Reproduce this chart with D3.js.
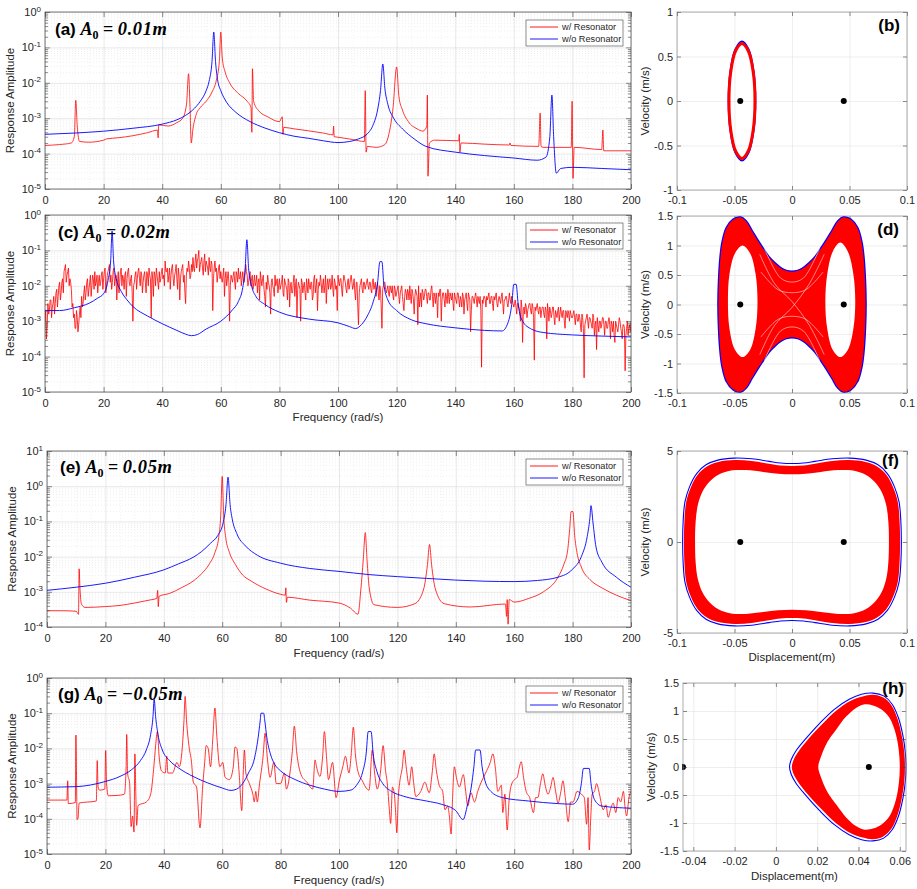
<!DOCTYPE html>
<html><head><meta charset="utf-8">
<script src="https://cdn.jsdelivr.net/npm/d3@7"></script>
<style>body{margin:0;background:#fff}text{font-family:"Liberation Sans",Arial,sans-serif}</style>
</head><body><svg id="c" width="917" height="889"></svg>
<script>
// ---------- DATA ----------
const freqTicks = [0,20,40,60,80,100,120,140,160,180,200];
const legendLabels = ["w/ Resonator","w/o Resonator"];

// (a) A0 = 0.01 m  [frequency, amplitude]
const aBlue = [[0,3.5e-4],[10,3.8e-4],[20,4.3e-4],[30,5.2e-4],[40,6.8e-4],[45,9e-4],[48,1.2e-3],[51,1.9e-3],[53,3e-3],[55,6e-3],[56,0.011],[57,0.04],[57.6,0.27],[58.2,0.04],[59,0.011],[60,6e-3],[62,2.8e-3],[65,1.5e-3],[70,8e-4],[75,5.3e-4],[80,3.9e-4],[85,3.1e-4],[90,2.7e-4],[95,2.3e-4],[100,2.05e-4],[104,2.2e-4],[107,2.6e-4],[110,3.6e-4],[112,6.5e-4],[113.5,1.7e-3],[114.5,6e-3],[115.3,0.034],[116,7e-3],[117,2.5e-3],[119,1e-3],[122,5e-4],[126,2.6e-4],[130,1.6e-4],[140,1.1e-4],[150,8.8e-5],[160,7.5e-5],[168,6.5e-5],[171,8e-5],[172.3,3e-4],[173,4.5e-3],[173.6,3e-4],[174.5,2.8e-5],[176,3.8e-5],[180,4.1e-5],[190,3.8e-5],[200,3.5e-5]];
const aRed = [[0,1.7e-4],[5,1.8e-4],[9,2e-4],[10,3e-4],[10.5,3.2e-3],[11,6e-4],[11.8,2.2e-4],[15,2.1e-4],[20,2.4e-4],[21,2.6e-4],[25,2.8e-4],[30,3.2e-4],[35,3.9e-4],[38.4,4.6e-4],[38.6,2.8e-4],[38.8,6.5e-4],[42,6e-4],[45,7.5e-4],[47,1e-3],[48.3,2.5e-3],[49,0.018],[49.5,2e-3],[49.9,2e-4],[50.5,5e-4],[51.5,1.2e-3],[53,2e-3],[55,3e-3],[57,5.5e-3],[58.5,0.012],[59.5,0.04],[60,0.27],[60.5,0.05],[61.5,0.02],[63,0.01],[66,5e-3],[69,3e-3],[70.3,2e-3],[70.6,4e-4],[70.8,0.025],[71.2,3e-3],[73,1.6e-3],[76,1.1e-3],[80,8e-4],[81,1.1e-3],[81.2,3.5e-4],[81.5,5.5e-4],[85,5e-4],[90,4.4e-4],[95,3.8e-4],[98.3,3.4e-4],[98.5,6e-4],[98.7,3e-4],[100,2.9e-4],[105,2.5e-4],[109,2.2e-4],[109.3,6e-3],[109.6,1.1e-4],[110,1.6e-4],[113,1.5e-4],[116,1.8e-4],[117.5,4e-4],[118.8,2e-3],[120,0.028],[120.8,4e-3],[122,1.7e-3],[124,8e-4],[127,5e-4],[129,4.3e-4],[130.3,6e-4],[130.5,4.5e-3],[130.7,2.3e-5],[131.2,2e-4],[133,2.4e-4],[141.2,2.3e-4],[141.4,3.5e-4],[141.6,1.1e-4],[142,2e-4],[150,1.85e-4],[158.5,1.75e-4],[158.7,2e-4],[159,1.7e-4],[168.5,1.6e-4],[169,1.4e-3],[169.3,1.6e-4],[170,1.5e-4],[179.6,1.5e-4],[179.9,3e-3],[180.2,2e-5],[180.6,1.5e-4],[190,1.3e-4],[190.4,4.6e-4],[190.7,1.2e-4],[200,1.2e-4]];

// (c) A0 = 0.02 m
const cBlue = [[0,2e-3],[5,2e-3],[10,2.4e-3],[15,3.2e-3],[18,4.5e-3],[20,6e-3],[21.5,0.014],[22.4,0.05],[22.9,0.35],[23.4,0.05],[24.3,0.016],[26,7e-3],[28,4e-3],[30,2.6e-3],[35,1.4e-3],[40,8.5e-4],[45,5.5e-4],[48,4.3e-4],[50,3.9e-4],[52,4.2e-4],[55,6e-4],[60,1e-3],[64,2.1e-3],[66,3.6e-3],[67.5,9e-3],[68.3,0.03],[68.9,0.2],[69.5,0.03],[70.5,0.01],[72,5e-3],[75,3e-3],[80,1.8e-3],[90,1.15e-3],[100,9e-4],[104,7e-4],[106,6.2e-4],[108,8e-4],[110,1.4e-3],[112,3.5e-3],[113.5,0.012],[114.3,0.048],[115,0.048],[115.6,0.012],[117,4e-3],[120,2e-3],[125,1.1e-3],[130,8.5e-4],[140,6.5e-4],[150,5.5e-4],[156,5.3e-4],[158,9e-4],[159.3,3e-3],[160,0.011],[160.8,0.011],[161.5,3e-3],[163,1e-3],[166,6e-4],[170,4.8e-4],[180,4.1e-4],[190,3.8e-4],[200,3.6e-4]];
// red trace of (c): log10 amplitude sampled every 0.5 rad/s (A: at 0, 0.5, ...; B: at 0.25, 0.75, ...)
const cRedLogA = [
-3.0,-3.5,-2.5,-2.7,-2.4,-2.6,-2.3,-2.5,-2.1,-2.3,-1.9,-2.2,-1.8,-1.6,-1.4,-1.7,-1.5,-1.8,-2.1,-2.5,
-2.8,-3.2,-2.9,-3.1,-2.6,-2.3,-2.5,-2.0,-2.2,-1.8,-2.1,-1.7,-2.0,-1.8,-1.6,-1.9,-2.2,-1.7,-1.9,-1.6,
-1.8,-1.5,-2.0,-1.6,-1.4,-1.7,-1.9,-1.5,-1.8,-2.4,-1.6,-1.9,-1.5,-1.7,-2.1,-1.6,-1.8,-1.5,-2.0,-1.7,
-3.0,-1.9,-1.6,-1.8,-1.5,-2.0,-1.7,-1.9,-1.6,-2.2,-1.7,-1.5,-1.8,-1.6,-2.3,-1.7,-1.5,-1.9,-1.6,-1.8,
-1.5,-1.7,-1.3,-1.6,-1.9,-1.5,-1.7,-1.4,-2.0,-1.6,-1.8,-1.5,-2.4,-1.6,-1.4,-1.7,-2.5,-1.5,-1.3,-1.8,
-1.4,-1.2,-1.6,-1.1,-1.3,-1.0,-1.4,-1.2,-1.7,-1.1,-1.3,-1.5,-1.2,-1.6,-1.4,-1.8,-1.3,-1.5,-1.7,-1.4,
-1.6,-1.9,-1.5,-1.8,-2.0,-1.6,-3.0,-1.7,-1.9,-1.6,-2.1,-1.7,-1.5,-1.8,-2.0,-1.6,-1.9,-1.4,-1.7,-1.9,
-1.6,-1.8,-2.1,-1.7,-1.9,-2.2,-1.8,-1.6,-2.0,-1.7,-2.3,-1.9,-1.7,-2.0,-2.8,-1.8,-2.1,-1.7,-1.9,-2.2,
-1.8,-2.0,-1.7,-2.3,-1.9,-2.1,-1.8,-2.6,-1.9,-2.2,-1.7,-2.0,-2.9,-1.9,-2.1,-1.8,-2.2,-1.9,-2.4,-2.0,
-1.8,-2.1,-1.9,-2.3,-1.7,-2.0,-2.7,-1.9,-1.7,-2.2,-1.8,-2.0,-2.5,-1.8,-1.9,-2.1,-1.7,-2.3,-1.9,-2.0,
-1.7,-2.0,-1.8,-2.3,-1.7,-1.9,-2.2,-1.8,-2.0,-1.7,-2.1,-1.8,-2.4,-1.9,-3.1,-2.0,-1.8,-2.2,-1.9,-2.0,
-1.8,-2.1,-1.9,-2.2,-1.8,-2.0,-2.3,-1.9,-2.4,-2.1,-3.2,-2.0,-1.9,-2.2,-2.0,-2.3,-2.1,-2.0,-2.4,-2.1,
-2.2,-2.0,-2.5,-2.1,-2.3,-2.7,-2.1,-2.4,-2.2,-2.0,-2.5,-2.2,-2.8,-2.1,-2.3,-2.0,-2.4,-2.6,-2.2,-2.3,
-2.1,-2.5,-2.2,-2.4,-2.0,-2.6,-2.3,-2.2,-2.9,-2.3,-2.1,-2.4,-2.2,-2.6,-2.3,-2.1,-2.5,-2.3,-2.2,-2.7,
-2.3,-2.5,-2.2,-2.6,-2.4,-2.2,-2.8,-2.3,-2.5,-2.2,-2.4,-2.7,-2.3,-2.5,-2.2,-2.6,-2.4,-2.3,-4.3,-2.5,
-2.3,-2.6,-2.4,-2.2,-2.5,-2.3,-2.7,-2.4,-2.2,-2.6,-2.3,-2.5,-2.2,-2.8,-2.4,-2.3,-2.6,-2.2,-2.5,-2.4,
-2.6,-2.4,-2.8,-2.5,-2.7,-2.4,-3.6,-2.6,-2.5,-2.9,-2.6,-2.5,-2.8,-2.6,-4.1,-2.7,-2.5,-2.8,-2.6,-2.7,
-2.6,-2.9,-2.7,-2.5,-3.0,-2.7,-2.8,-2.6,-3.1,-2.8,-2.7,-3.0,-2.6,-2.9,-2.7,-3.2,-2.8,-2.7,-3.0,-2.8,
-2.9,-2.7,-3.1,-2.8,-3.0,-2.9,-3.3,-2.9,-4.6,-3.0,-2.8,-3.2,-2.9,-3.1,-2.8,-3.4,-3.0,-2.9,-3.3,-3.0,
-3.1,-2.9,-3.4,-3.0,-3.2,-2.9,-3.5,-3.1,-3.0,-3.6,-3.1,-3.3,-2.9,-3.2,-3.5,-3.1,-4.4,-3.2,-3.4,-3.1,-3.0];
const cRedLogB = [
-2.7,-3.1,-2.8,-2.4,-2.9,-2.5,-2.8,-2.2,-2.6,-2.0,-2.4,-1.9,-2.2,-1.5,-1.9,-1.6,-2.0,-1.9,-2.6,-2.9,
-3.2,-2.7,-3.3,-2.8,-2.9,-2.6,-2.2,-2.4,-1.9,-2.3,-1.9,-2.3,-1.7,-2.1,-2.0,-1.7,-1.9,-2.0,-1.7,-2.1,
-1.6,-2.2,-1.7,-1.5,-1.9,-2.1,-1.6,-2.0,-1.7,-1.9,-2.2,-1.6,-2.0,-1.8,-1.7,-2.3,-1.6,-1.9,-1.8,-2.2,
-2.0,-1.7,-2.1,-1.6,-1.8,-1.6,-2.2,-1.7,-1.9,-1.6,-2.0,-1.7,-2.9,-1.8,-1.6,-2.0,-1.7,-2.1,-1.9,-1.6,
-1.8,-2.0,-1.6,-1.5,-1.7,-2.1,-1.5,-1.8,-1.7,-1.4,-2.1,-1.7,-1.8,-1.5,-1.9,-2.2,-1.7,-1.6,-1.5,-1.7,
-1.6,-1.5,-1.3,-1.5,-1.2,-1.6,-1.3,-1.5,-1.3,-1.6,-1.4,-1.7,-1.5,-1.3,-2.7,-1.5,-1.6,-1.9,-1.5,-1.8,
-1.8,-1.7,-2.3,-1.6,-1.8,-1.9,-2.0,-1.8,-1.7,-1.9,-1.6,-1.9,-1.8,-1.6,-1.8,-1.9,-1.7,-1.6,-2.0,-1.7,
-2.0,-1.7,-1.9,-2.0,-1.7,-1.9,-2.4,-1.8,-1.8,-2.1,-2.6,-2.1,-1.9,-2.2,-1.9,-2.0,-2.3,-2.0,-1.8,-2.0,
-2.1,-1.9,-2.2,-1.8,-2.0,-2.4,-1.9,-2.0,-2.2,-1.9,-2.3,-1.8,-2.1,-2.0,-3.0,-1.9,-2.0,-2.2,-1.8,-2.2,
-2.0,-1.9,-2.4,-1.8,-2.2,-1.8,-2.1,-2.0,-1.9,-2.0,-2.2,-1.7,-2.0,-2.1,-1.8,-2.0,-2.1,-1.8,-2.1,-2.7,
-1.9,-1.8,-2.1,-1.9,-1.8,-2.1,-1.9,-2.1,-1.8,-1.9,-2.0,-2.2,-1.9,-2.6,-2.2,-1.9,-2.1,-1.9,-2.1,-1.9,
-2.0,-1.9,-2.1,-1.9,-2.1,-1.9,-2.1,-2.2,-2.0,-2.6,-2.1,-1.9,-2.1,-2.1,-2.2,-2.0,-2.2,-2.3,-2.0,-2.3,
-2.1,-2.3,-2.2,-2.0,-2.5,-2.3,-2.2,-2.1,-2.4,-2.3,-2.1,-2.4,-2.3,-2.2,-3.1,-2.6,-2.2,-2.1,-2.4,-2.1,
-2.3,-2.2,-2.4,-2.1,-2.3,-2.2,-2.5,-2.4,-2.2,-2.1,-3.0,-2.2,-2.4,-2.2,-2.5,-2.3,-2.2,-2.4,-2.5,-2.2,
-2.4,-2.2,-2.4,-2.3,-2.6,-2.3,-2.4,-2.2,-2.7,-2.3,-3.3,-2.3,-2.4,-2.3,-2.4,-2.3,-2.5,-2.7,-2.4,-2.3,
-2.4,-2.3,-2.3,-2.5,-2.3,-2.5,-2.3,-2.3,-2.5,-2.4,-2.4,-2.3,-2.5,-2.4,-2.3,-2.5,-2.4,-2.4,-2.3,-2.5,
-2.5,-2.6,-2.5,-2.6,-3.0,-2.6,-2.7,-2.8,-2.6,-2.7,-2.5,-2.7,-2.5,-2.9,-2.6,-2.6,-2.7,-2.6,-2.9,-2.6,
-2.8,-2.6,-3.5,-2.7,-2.6,-2.9,-2.6,-2.9,-2.7,-2.9,-2.6,-2.8,-2.8,-2.7,-3.0,-2.7,-2.9,-2.8,-2.7,-2.9,
-2.8,-2.9,-2.8,-3.0,-2.8,-3.1,-2.8,-3.2,-3.1,-2.9,-3.0,-2.9,-3.0,-3.2,-2.9,-3.1,-3.8,-3.1,-3.0,-3.2,
-2.9,-3.1,-3.0,-3.2,-3.0,-3.1,-3.0,-3.3,-3.4,-3.0,-3.2,-3.1,-3.0,-3.3,-3.1,-3.2,-3.4,-3.0,-3.2,-3.3];
const cRedStep = 0.5;

// (e) A0 = 0.05 m
const eBlue = [[0,1.1e-3],[10,1.35e-3],[20,1.75e-3],[30,2.6e-3],[40,4.2e-3],[45,6.2e-3],[50,9.5e-3],[53,0.014],[56,0.024],[58.5,0.04],[60.3,0.09],[61.3,0.3],[62,1.8],[62.7,0.3],[63.5,0.11],[65,0.045],[68,0.02],[72,0.011],[80,6.5e-3],[90,4.6e-3],[100,3.8e-3],[110,3.1e-3],[120,2.7e-3],[130,2.4e-3],[140,2.15e-3],[150,2.0e-3],[160,1.95e-3],[168,2.1e-3],[175,2.6e-3],[180,4.4e-3],[183,0.01],[185,0.037],[185.9,0.12],[186.3,0.28],[187,0.09],[188,0.019],[190,7e-3],[195,2.6e-3],[200,1.35e-3]];
const eRed = [[0,2.9e-4],[5,2.9e-4],[10,2.8e-4],[10.8,2.3e-4],[11,4.5e-3],[11.3,1.2e-3],[11.8,4.5e-4],[13,3.6e-4],[20,3.8e-4],[25,4.1e-4],[30,4.8e-4],[35,5.8e-4],[37.6,6.5e-4],[37.9,1.1e-3],[38.1,3.8e-4],[38.4,7.5e-4],[42,9e-4],[46,1.3e-3],[50,2e-3],[53,3.3e-3],[55.5,6e-3],[57.5,0.013],[58.8,0.035],[59.5,0.15],[60,1.9],[60.5,0.15],[61.2,0.035],[62.5,0.013],[64.5,6e-3],[67,3e-3],[70,2e-3],[75,1.2e-3],[80,8.5e-4],[81.6,8e-4],[81.8,1.3e-3],[82,5e-4],[82.3,7e-4],[90,5.8e-4],[100,4.8e-4],[104,3.4e-4],[106.5,2.3e-4],[107.5,1.2e-3],[108.3,8e-3],[109,0.048],[109.6,8e-3],[110.4,1.2e-3],[112,4.3e-4],[120,3.6e-4],[126,4.6e-4],[129,1.2e-3],[130.3,6e-3],[131,0.022],[131.7,6e-3],[133,1.2e-3],[136,4.6e-4],[145,3.7e-4],[157,4.5e-4],[157.4,2e-4],[157.6,6e-4],[157.9,1.2e-4],[158.3,6e-4],[160,5.1e-4],[165,6.5e-4],[170,1e-3],[175,2.6e-3],[177,6e-3],[178.3,0.015],[179,0.06],[179.5,0.19],[180.1,0.19],[180.7,0.04],[181.5,0.013],[183,5e-3],[186,2.2e-3],[190,1.3e-3],[195,8e-4],[200,5.6e-4]];

// (g) A0 = -0.05 m
const gBlue = [[0,7.9e-4],[10,8.2e-4],[20,1.15e-3],[25,1.6e-3],[29,2.5e-3],[32,4.5e-3],[34,9e-3],[35.5,0.025],[36.3,0.08],[36.7,0.25],[37.2,0.08],[38,0.025],[39.5,9e-3],[42,4.5e-3],[45,2.8e-3],[50,1.6e-3],[55,1.05e-3],[60,7.5e-4],[63,6.4e-4],[65,7e-4],[67,1e-3],[69,2e-3],[71,5e-3],[72.3,0.02],[73,0.06],[73.3,0.1],[74.2,0.1],[74.6,0.06],[75.3,0.02],[76.5,7e-3],[78,3.5e-3],[80,2.3e-3],[85,1.3e-3],[90,9e-4],[95,7e-4],[100,6e-4],[104,6.5e-4],[106,9e-4],[108,2e-3],[109.3,7e-3],[110,0.03],[111,0.03],[111.7,7e-3],[113,2.2e-3],[115,1e-3],[118,6e-4],[122,4.4e-4],[130,3.2e-4],[135,2.6e-4],[140,1.7e-4],[142.5,9.5e-5],[144,2.5e-4],[145.3,8e-4],[146.2,3e-3],[146.8,9e-3],[148.3,9e-3],[149,3e-3],[150,1.2e-3],[152,6e-4],[156,4e-4],[165,3.2e-4],[175,2.7e-4],[180,2.6e-4],[182,4e-4],[183,1e-3],[183.7,2.7e-3],[185.7,2.7e-3],[186.3,1e-3],[187.5,3.5e-4],[190,2.3e-4],[200,2e-4]];
const gRed = [[0,3.4e-4],[6.8,3.4e-4],[7.1,1.2e-3],[7.3,2.7e-4],[9.7,2.9e-4],[9.9,0.024],[10.1,2e-3],[10.3,9.5e-5],[10.6,1e-4],[11,2.8e-4],[16.9,3.2e-4],[17.2,4.5e-3],[17.5,8e-4],[18,6.5e-4],[19.8,7e-4],[20.1,8.7e-3],[20.4,1e-3],[21,4.5e-4],[24,4.6e-4],[26.5,5e-4],[27.1,3e-3],[27.3,0.025],[27.6,2e-3],[28.3,1e-3],[28.8,6e-5],[29.3,1.2e-4],[29.8,4.2e-5],[30.1,7e-3],[30.4,6e-4],[30.7,6.5e-5],[31.2,2.4e-4],[34,3e-4],[35.5,5e-4],[36.5,2.5e-3],[37.2,0.012],[37.8,0.03],[38.4,6e-3],[39.2,2.3e-3],[40.5,2e-3],[41,6e-3],[41.4,2e-3],[43,2e-3],[44.5,4e-3],[45.3,3e-3],[46.3,0.01],[46.9,0.06],[47.3,0.3],[47.8,0.06],[48.6,0.012],[49.5,4e-3],[50.1,1.1e-3],[51.2,8e-4],[52.4,5.5e-5],[53.3,8e-4],[54,4e-3],[54.5,0.012],[55.2,0.01],[56,3e-3],[56.8,0.02],[57.5,0.14],[58.2,0.02],[59.2,3e-3],[60.2,4e-3],[61,1.5e-3],[62.5,1.3e-3],[63.8,3e-3],[64.4,0.011],[65,0.01],[65.8,2e-3],[66.7,1.7e-4],[67.2,2e-3],[67.6,0.009],[68.1,2e-3],[69.3,1e-3],[70.5,5e-4],[71,3e-4],[71.5,6e-4],[72,3e-4],[72.8,1e-3],[74,6e-3],[74.7,0.027],[75.4,6e-3],[76.4,1.5e-3],[77.7,4e-3],[78.5,1e-3],[80,1e-3],[81.3,2e-3],[82,7e-4],[83.2,2e-3],[84,8e-3],[84.7,0.043],[85.5,8e-3],[87,1.8e-3],[89,1.1e-3],[91,7e-4],[91.8,4.7e-3],[92.3,3e-3],[93.5,1.6e-3],[94.4,6e-3],[95,0.03],[95.7,6e-3],[96.4,1.3e-3],[97.8,4e-3],[99,4e-4],[100.1,1.2e-3],[101.3,3e-3],[102.2,6e-3],[103.4,2e-3],[104.2,7e-3],[104.9,0.04],[105.6,7e-3],[106.5,2.2e-3],[108,1.2e-3],[109.1,8e-4],[110.3,6.5e-4],[111.4,9e-3],[112.2,2e-3],[113.1,7e-4],[114.3,2.5e-3],[115.1,0.012],[115.9,2.5e-3],[116.6,9e-4],[117.2,2e-4],[117.7,7.4e-5],[118.3,8e-4],[118.9,5.5e-4],[119.4,1.5e-4],[119.8,4e-5],[120.3,4e-4],[120.8,1.1e-3],[121.7,3e-3],[122.3,9e-3],[123,3e-3],[124,9e-4],[124.9,3e-3],[125.6,1e-3],[126.3,4.3e-4],[128,6e-4],[129.4,1.1e-3],[130.9,5.5e-4],[131.9,2e-3],[132.6,7e-3],[133.3,2.5e-3],[134.3,9e-4],[135.5,6e-4],[136.3,1.8e-4],[137.2,2.3e-4],[137.8,1.2e-4],[138.4,3.7e-5],[138.9,4e-4],[139.5,3e-3],[140.2,1.5e-3],[141.2,8e-4],[142.6,1.8e-3],[143.3,7e-4],[144.1,2.3e-4],[145.2,5.5e-4],[146.4,3e-4],[147.5,6e-4],[148.7,1.1e-3],[150.2,2e-3],[151.8,4e-3],[152.7,7e-3],[153.5,3e-3],[154.4,6e-4],[155.6,9e-4],[156.1,1.5e-4],[156.8,5e-4],[157.6,4.8e-5],[158.2,3e-4],[159,9e-4],[160.1,1.3e-3],[161,1.5e-3],[161.8,3e-3],[162.4,4.2e-3],[163.2,1.5e-3],[164.1,6e-4],[165.3,4e-4],[166.6,1.5e-4],[167.3,4e-4],[168.1,4e-4],[169,1e-3],[169.8,1.9e-3],[170.6,9e-4],[171.6,5e-4],[172.5,8e-4],[173.3,1.5e-3],[174.2,6e-4],[175,2.8e-4],[176,6e-4],[176.7,1.2e-3],[177.5,4e-4],[178.5,8.3e-5],[179.3,3e-4],[180.2,3e-4],[181.5,6e-4],[183,5e-4],[184,4e-4],[184.8,7e-5],[185.3,4e-4],[185.7,1.3e-5],[186.2,1e-4],[186.7,5e-4],[187.5,6e-4],[188.2,1e-3],[189.2,5e-4],[190.5,1.8e-4],[191.4,2.5e-4],[192.2,1.1e-4],[193.1,2e-4],[193.9,2.8e-4],[194.8,1.5e-4],[195.6,4e-4],[196.5,3e-4],[197.4,6e-4],[198,2e-4],[198.5,1.2e-4],[199.3,4e-4],[200,6e-4]];

// Phase portraits [displacement, velocity]
const equilibria = [[-0.045,0],[0.045,0]];
const bRed = [[-0.0322,0],[-0.0337,0.3225],[-0.0379,0.5586],[-0.0435,0.645],[-0.0492,0.5586],[-0.0533,0.3225],[-0.0548,0],[-0.0533,-0.3225],[-0.0492,-0.5586],[-0.0435,-0.645],[-0.0379,-0.5586],[-0.0337,-0.3225]];
const bBlue = [[-0.0317,0],[-0.0333,0.335],[-0.0376,0.58],[-0.0435,0.67],[-0.0494,0.58],[-0.0537,0.335],[-0.0553,0],[-0.0537,-0.335],[-0.0494,-0.58],[-0.0435,-0.67],[-0.0376,-0.58],[-0.0333,-0.335]];
const dOuter = [[-0.064,0],[-0.0635,0.4],[-0.0622,0.8],[-0.0605,1.05],[-0.0568,1.3],[-0.051,1.44],[-0.045,1.48],[-0.04,1.41],[-0.035,1.25],[-0.03,1.09],[-0.025,0.94],[-0.02,0.8],[-0.015,0.7],[-0.01,0.62],[-0.005,0.57],[0,0.555],[0.005,0.57],[0.01,0.62],[0.015,0.7],[0.02,0.8],[0.025,0.94],[0.03,1.09],[0.035,1.25],[0.04,1.41],[0.045,1.48],[0.051,1.44],[0.0568,1.3],[0.0605,1.05],[0.0622,0.8],[0.0635,0.4],[0.064,0],[0.0635,-0.4],[0.0622,-0.8],[0.0605,-1.05],[0.0568,-1.3],[0.051,-1.44],[0.045,-1.48],[0.04,-1.41],[0.035,-1.25],[0.03,-1.09],[0.025,-0.94],[0.02,-0.8],[0.015,-0.7],[0.01,-0.62],[0.005,-0.57],[0,-0.555],[-0.005,-0.57],[-0.01,-0.62],[-0.015,-0.7],[-0.02,-0.8],[-0.025,-0.94],[-0.03,-1.09],[-0.035,-1.25],[-0.04,-1.41],[-0.045,-1.48],[-0.051,-1.44],[-0.0568,-1.3],[-0.0605,-1.05],[-0.0622,-0.8],[-0.0635,-0.4]];
const dHoleL = [[-0.030,0.05],[-0.0317,0.52],[-0.0365,0.87],[-0.043,1.0],[-0.0495,0.87],[-0.0543,0.52],[-0.0557,0.05],[-0.0543,-0.42],[-0.0495,-0.77],[-0.043,-0.89],[-0.0365,-0.77],[-0.0317,-0.42]];
const dHoleR = [[0.055,0.05],[0.0533,0.52],[0.0485,0.9],[0.042,1.05],[0.0355,0.9],[0.0307,0.52],[0.029,0.05],[0.0307,-0.42],[0.0355,-0.77],[0.042,-0.89],[0.0485,-0.77],[0.0533,-0.42]];
// thin gaps between orbit strands in the middle of (d)
const dStreaks = [
  [[-0.028,0.85],[-0.015,0.35],[0,0.05],[0.015,-0.35],[0.028,-0.85]],
  [[-0.028,-0.85],[-0.015,-0.35],[0,-0.05],[0.015,0.35],[0.028,0.85]],
  [[-0.027,0.55],[-0.012,0.25],[0,0.2],[0.012,0.25],[0.027,0.55]],
  [[-0.027,-0.55],[-0.012,-0.25],[0,-0.2],[0.012,-0.25],[0.027,-0.55]],
  [[-0.024,0.95],[-0.01,0.45],[0,0.38],[0.01,0.45],[0.024,0.95]],
  [[-0.024,-0.95],[-0.01,-0.45],[0,-0.38],[0.01,-0.45],[0.024,-0.95]]
];
const fOuter = [[-0.094,0],[-0.0935,1.2],[-0.092,2.2],[-0.088,3.0],[-0.082,3.7],[-0.074,4.15],[-0.064,4.4],[-0.05,4.5],[-0.035,4.45],[-0.02,4.3],[-0.01,4.2],[0,4.18],[0.01,4.2],[0.02,4.3],[0.035,4.45],[0.05,4.5],[0.064,4.4],[0.074,4.15],[0.082,3.7],[0.088,3.0],[0.092,2.2],[0.0935,1.2],[0.094,0],[0.0935,-1.2],[0.092,-2.2],[0.088,-3.0],[0.082,-3.7],[0.074,-4.15],[0.064,-4.4],[0.05,-4.5],[0.035,-4.45],[0.02,-4.3],[0.01,-4.2],[0,-4.18],[-0.01,-4.2],[-0.02,-4.3],[-0.035,-4.45],[-0.05,-4.5],[-0.064,-4.4],[-0.074,-4.15],[-0.082,-3.7],[-0.088,-3.0],[-0.092,-2.2],[-0.0935,-1.2]];
const fInner = [[-0.0843,0],[-0.0838,1.1],[-0.082,2.0],[-0.078,2.75],[-0.072,3.3],[-0.064,3.7],[-0.053,3.93],[-0.04,3.95],[-0.025,3.85],[-0.012,3.75],[0,3.72],[0.012,3.75],[0.025,3.85],[0.04,3.95],[0.053,3.93],[0.064,3.7],[0.072,3.3],[0.078,2.75],[0.082,2.0],[0.0838,1.1],[0.0843,0],[0.0838,-1.1],[0.082,-2.0],[0.078,-2.75],[0.072,-3.3],[0.064,-3.7],[0.053,-3.93],[0.04,-3.95],[0.025,-3.85],[0.012,-3.75],[0,-3.72],[-0.012,-3.75],[-0.025,-3.85],[-0.04,-3.95],[-0.053,-3.93],[-0.064,-3.7],[-0.072,-3.3],[-0.078,-2.75],[-0.082,-2.0],[-0.0838,-1.1]];
const fBlue = [[-0.0951,0],[-0.0946,1.2],[-0.0931,2.2],[-0.0891,3.03],[-0.0829,3.76],[-0.0748,4.24],[-0.0645,4.5],[-0.05,4.61],[-0.035,4.57],[-0.02,4.43],[-0.01,4.34],[0,4.31],[0.01,4.34],[0.02,4.43],[0.035,4.57],[0.05,4.61],[0.0645,4.5],[0.0748,4.24],[0.0829,3.76],[0.0891,3.03],[0.0931,2.2],[0.0946,1.2],[0.0951,0],[0.0946,-1.2],[0.0931,-2.2],[0.0891,-3.03],[0.0829,-3.76],[0.0748,-4.24],[0.0645,-4.5],[0.05,-4.61],[0.035,-4.57],[0.02,-4.43],[0.01,-4.34],[0,-4.31],[-0.01,-4.34],[-0.02,-4.43],[-0.035,-4.57],[-0.05,-4.61],[-0.0645,-4.5],[-0.0748,-4.24],[-0.0829,-3.76],[-0.0891,-3.03],[-0.0931,-2.2],[-0.0946,-1.2]];
const hOuter = [[0.0077,0],[0.0085,0.12],[0.011,0.28],[0.0157,0.5],[0.022,0.75],[0.029,1.0],[0.036,1.18],[0.042,1.26],[0.047,1.29],[0.052,1.24],[0.056,1.1],[0.059,0.85],[0.061,0.55],[0.0622,0.25],[0.0625,0],[0.0622,-0.25],[0.061,-0.55],[0.059,-0.85],[0.056,-1.1],[0.052,-1.24],[0.047,-1.29],[0.042,-1.26],[0.036,-1.18],[0.029,-1.0],[0.022,-0.75],[0.0157,-0.5],[0.011,-0.28],[0.0085,-0.12]];
const hInner = [[0.0205,0],[0.022,0.2],[0.025,0.45],[0.0294,0.68],[0.034,0.9],[0.039,1.06],[0.043,1.12],[0.047,1.1],[0.051,1.03],[0.055,0.88],[0.058,0.6],[0.0595,0.3],[0.06,0],[0.0595,-0.3],[0.058,-0.6],[0.055,-0.88],[0.051,-1.03],[0.047,-1.1],[0.043,-1.12],[0.039,-1.06],[0.034,-0.9],[0.0294,-0.68],[0.025,-0.45],[0.022,-0.2]];
const hBlue = [[0.0066,0],[0.0074,0.13],[0.0099,0.3],[0.0148,0.52],[0.0212,0.78],[0.0283,1.03],[0.0355,1.21],[0.0415,1.3],[0.047,1.32],[0.0522,1.27],[0.0563,1.12],[0.0594,0.87],[0.0615,0.56],[0.0627,0.25],[0.063,0],[0.0627,-0.25],[0.0615,-0.56],[0.0594,-0.87],[0.0563,-1.12],[0.0522,-1.27],[0.047,-1.32],[0.0415,-1.3],[0.0355,-1.21],[0.0283,-1.03],[0.0212,-0.78],[0.0148,-0.52],[0.0099,-0.3],[0.0074,-0.13]];

// ---------- DRAW ----------
const svg = d3.select('#c');
const RED = '#ff0000', BLUE = '#0000ff', AXC = '#404040', TXT = '#262626';
let clipN = 0;

function styleAxis(g, showText, fs) {
  g.select('.domain').remove();
  g.selectAll('.tick line').attr('stroke', AXC).attr('stroke-width', 0.6);
  g.selectAll('.tick text').attr('fill', TXT).attr('font-size', fs).attr('font-family', '"Liberation Sans",Arial,sans-serif');
  if (!showText) g.selectAll('.tick text').remove();
}
function gridAxis(g, color, dash, w) {
  g.select('.domain').remove();
  g.selectAll('.tick text').remove();
  g.selectAll('.tick line').attr('stroke', color).attr('stroke-width', w).attr('stroke-dasharray', dash);
}

function drawLogPanel(p) {
  const g = svg.append('g');
  const x = d3.scaleLinear().domain([0, 200]).range([p.x0, p.x1]);
  const y = d3.scaleLog().domain(p.yDom).range([p.y1, p.y0]);
  const e0 = Math.round(Math.log10(p.yDom[0])), e1 = Math.round(Math.log10(p.yDom[1]));
  const decades = d3.range(e0, e1 + 1).map(e => Math.pow(10, e));
  const minors = [];
  for (let e = e0; e < e1; e++) for (let k = 2; k <= 9; k++) minors.push(k * Math.pow(10, e));
  const xMinor = d3.range(0, 201, 5).filter(v => v % 20 !== 0);
  const W = p.x1 - p.x0, H = p.y1 - p.y0;

  gridAxis(g.append('g').attr('transform', `translate(${p.x0},0)`).call(d3.axisLeft(y).tickValues(minors).tickSize(-W).tickFormat('')), '#e4e4e4', '1,2', 0.6);
  gridAxis(g.append('g').attr('transform', `translate(0,${p.y1})`).call(d3.axisBottom(x).tickValues(xMinor).tickSize(-H).tickFormat('')), '#ececec', '1,2', 0.6);
  gridAxis(g.append('g').attr('transform', `translate(${p.x0},0)`).call(d3.axisLeft(y).tickValues(decades).tickSize(-W).tickFormat('')), '#d9d9d9', null, 0.6);
  gridAxis(g.append('g').attr('transform', `translate(0,${p.y1})`).call(d3.axisBottom(x).tickValues(freqTicks).tickSize(-H).tickFormat('')), '#d9d9d9', null, 0.6);

  const cid = 'clip' + (clipN++);
  g.append('clipPath').attr('id', cid).append('rect').attr('x', p.x0).attr('y', p.y0).attr('width', W).attr('height', H);
  const lineSmooth = d3.line().x(d => x(d[0])).y(d => y(d[1])).curve(d3.curveMonotoneX);
  const lineLin = d3.line().x(d => x(d[0])).y(d => y(d[1]));
  const dg = g.append('g').attr('clip-path', `url(#${cid})`);
  dg.append('path').datum(p.red).attr('d', p.redLinear ? lineLin : lineSmooth).attr('fill', 'none').attr('stroke', RED).attr('stroke-width', 0.8).attr('stroke-linejoin', 'round');
  dg.append('path').datum(p.blue).attr('d', lineSmooth).attr('fill', 'none').attr('stroke', BLUE).attr('stroke-width', 0.9);

  const ax = g.append('g').attr('transform', `translate(0,${p.y1})`).call(d3.axisBottom(x).tickValues(freqTicks).tickSize(-5).tickSizeOuter(0).tickPadding(7).tickFormat(d => d));
  styleAxis(ax, true, 11);
  styleAxis(g.append('g').attr('transform', `translate(0,${p.y0})`).call(d3.axisTop(x).tickValues(freqTicks).tickSize(-5).tickSizeOuter(0)), false, 11);
  const ay = g.append('g').attr('transform', `translate(${p.x0},0)`).call(d3.axisLeft(y).tickValues(decades).tickSize(-5).tickSizeOuter(0).tickPadding(4).tickFormat(() => '10'));
  styleAxis(ay, true, 11);
  ay.selectAll('.tick text').each(function (d) {
    const e = Math.round(Math.log10(d));
    d3.select(this).append('tspan').attr('dy', '-0.55em').attr('font-size', 8).text(e);
  });
  styleAxis(g.append('g').attr('transform', `translate(${p.x0},0)`).call(d3.axisLeft(y).tickValues(minors).tickSize(-3).tickSizeOuter(0)), false, 11);
  styleAxis(g.append('g').attr('transform', `translate(${p.x1},0)`).call(d3.axisRight(y).tickValues(decades).tickSize(-5).tickSizeOuter(0)), false, 11);
  styleAxis(g.append('g').attr('transform', `translate(${p.x1},0)`).call(d3.axisRight(y).tickValues(minors).tickSize(-3).tickSizeOuter(0)), false, 11);
  g.append('rect').attr('x', p.x0).attr('y', p.y0).attr('width', W).attr('height', H).attr('fill', 'none').attr('stroke', AXC).attr('stroke-width', 0.7);

  g.append('text').attr('transform', `translate(${p.x0 - 31},${(p.y0 + p.y1) / 2}) rotate(-90)`).attr('text-anchor', 'middle').attr('font-size', 11.5).attr('fill', TXT).text('Response Amplitude');
  if (p.xlabel) g.append('text').attr('x', (p.x0 + p.x1) / 2).attr('y', p.xlabelY).attr('text-anchor', 'middle').attr('font-size', 11.5).attr('fill', TXT).text('Frequency (rad/s)');

  const serif = '"Liberation Serif","DejaVu Serif",serif';
  const t = g.append('text').attr('x', p.tx).attr('y', p.ty).attr('font-size', 17).attr('font-weight', 'bold').attr('fill', '#000');
  t.append('tspan').attr('font-family', '"Liberation Sans",Arial,sans-serif').text('(' + p.id + ') ');
  t.append('tspan').attr('font-family', serif).attr('font-style', 'italic').attr('font-size', 18).text('A');
  t.append('tspan').attr('font-family', serif).attr('font-size', 12).attr('dy', 4).text('0');
  t.append('tspan').attr('font-family', serif).attr('font-size', 18).attr('dy', -4).text(' = ');
  t.append('tspan').attr('font-family', serif).attr('font-style', 'italic').attr('font-size', 18.5).attr('letter-spacing', 0.6).text(p.val + 'm');

  const lx = p.x1 - 105, ly = p.y0 + 8;
  const lg = g.append('g');
  lg.append('rect').attr('x', lx).attr('y', ly).attr('width', 97).attr('height', 26).attr('fill', '#fff').attr('stroke', AXC).attr('stroke-width', 0.6);
  [RED, BLUE].forEach((c, i) => {
    const yy = ly + 7 + i * 12;
    lg.append('line').attr('x1', lx + 4).attr('x2', lx + 32).attr('y1', yy).attr('y2', yy).attr('stroke', c).attr('stroke-width', 0.9);
    lg.append('text').attr('x', lx + 36).attr('y', yy + 3.3).attr('font-size', 9.2).attr('fill', TXT).text(legendLabels[i]);
  });
}

function drawPhasePanel(p) {
  const g = svg.append('g');
  const x = d3.scaleLinear().domain(p.xDom).range([p.x0, p.x1]);
  const y = d3.scaleLinear().domain(p.yDom).range([p.y1, p.y0]);
  const W = p.x1 - p.x0, H = p.y1 - p.y0;
  gridAxis(g.append('g').attr('transform', `translate(${p.x0},0)`).call(d3.axisLeft(y).tickValues(p.yt).tickSize(-W).tickFormat('')), '#e2e2e2', null, 0.6);
  gridAxis(g.append('g').attr('transform', `translate(0,${p.y1})`).call(d3.axisBottom(x).tickValues(p.xt).tickSize(-H).tickFormat('')), '#e2e2e2', null, 0.6);

  const cid = 'clip' + (clipN++);
  g.append('clipPath').attr('id', cid).append('rect').attr('x', p.x0 - 1).attr('y', p.y0 - 1).attr('width', W + 2).attr('height', H + 2);
  const dg = g.append('g').attr('clip-path', `url(#${cid})`);
  const closed = d3.line().x(d => x(d[0])).y(d => y(d[1])).curve(d3.curveCatmullRomClosed.alpha(0.5));
  const open = d3.line().x(d => x(d[0])).y(d => y(d[1])).curve(d3.curveCatmullRom.alpha(0.5));
  p.draw(dg, closed, open);
  dg.selectAll('circle.eq').data(equilibria).join('circle').attr('class', 'eq').attr('cx', d => x(d[0])).attr('cy', d => y(d[1])).attr('r', 3).attr('fill', '#000');

  const ax = g.append('g').attr('transform', `translate(0,${p.y1})`).call(d3.axisBottom(x).tickValues(p.xt).tickSize(-4).tickSizeOuter(0).tickPadding(6).tickFormat(d => String(d)));
  styleAxis(ax, true, 11);
  styleAxis(g.append('g').attr('transform', `translate(0,${p.y0})`).call(d3.axisTop(x).tickValues(p.xt).tickSize(-4).tickSizeOuter(0)), false, 11);
  const ay = g.append('g').attr('transform', `translate(${p.x0},0)`).call(d3.axisLeft(y).tickValues(p.yt).tickSize(-4).tickSizeOuter(0).tickPadding(4).tickFormat(d => String(d)));
  styleAxis(ay, true, 11);
  styleAxis(g.append('g').attr('transform', `translate(${p.x1},0)`).call(d3.axisRight(y).tickValues(p.yt).tickSize(-4).tickSizeOuter(0)), false, 11);
  g.append('rect').attr('x', p.x0).attr('y', p.y0).attr('width', W).attr('height', H).attr('fill', 'none').attr('stroke', '#8a8a8a').attr('stroke-width', 0.7);

  g.append('text').attr('transform', `translate(${p.x0 - 28},${(p.y0 + p.y1) / 2}) rotate(-90)`).attr('text-anchor', 'middle').attr('font-size', 11.5).attr('fill', TXT).text('Velocity (m/s)');
  if (p.xlabelY) g.append('text').attr('x', (p.x0 + p.x1) / 2).attr('y', p.xlabelY).attr('text-anchor', 'middle').attr('font-size', 11.5).attr('fill', TXT).text('Displacement(m)');
  g.append('text').attr('x', p.lx).attr('y', p.ly).attr('text-anchor', 'end').attr('font-size', 17).attr('font-weight', 'bold').attr('fill', '#000').text('(' + p.id + ')');
}

function bandPath(closed, outer, holes) {
  return [outer].concat(holes).map(r => closed(r)).join(' ');
}

const cRed = [];
cRedLogA.forEach((v, i) => {
  cRed.push([i * cRedStep, Math.pow(10, v)]);
  if (i < cRedLogB.length) cRed.push([i * cRedStep + cRedStep / 2, Math.pow(10, cRedLogB[i])]);
});

const logPanels = [
  {id: 'a', x0: 45, x1: 631, y0: 12, y1: 189, yDom: [1e-5, 1], red: aRed, blue: aBlue, val: '0.01', tx: 55, ty: 35, xlabel: false},
  {id: 'c', x0: 45, x1: 631, y0: 215, y1: 392, yDom: [1e-5, 1], red: cRed, redLinear: true, blue: cBlue, val: '0.02', tx: 58, ty: 238, xlabel: true, xlabelY: 421},
  {id: 'e', x0: 47, x1: 631, y0: 451, y1: 627, yDom: [1e-4, 10], red: eRed, blue: eBlue, val: '0.05', tx: 60, ty: 473, xlabel: true, xlabelY: 657},
  {id: 'g', x0: 47, x1: 631, y0: 678, y1: 854, yDom: [1e-5, 1], red: gRed, blue: gBlue, val: '\u22120.05', tx: 58, ty: 700, xlabel: true, xlabelY: 884}
];
logPanels.forEach(drawLogPanel);

const xtStd = [-0.1, -0.05, 0, 0.05, 0.1];
const phasePanels = [
  {id: 'b', x0: 677, x1: 907, y0: 12, y1: 190, xDom: [-0.1, 0.1], yDom: [-1, 1], xt: xtStd, yt: [-1, -0.5, 0, 0.5, 1], lx: 900, ly: 31,
   draw: (g, L) => {
     g.append('path').attr('d', L(bBlue)).attr('fill', 'none').attr('stroke', BLUE).attr('stroke-width', 1.6);
     g.append('path').attr('d', L(bRed)).attr('fill', 'none').attr('stroke', RED).attr('stroke-width', 3);
   }},
  {id: 'd', x0: 677, x1: 907, y0: 216, y1: 393, xDom: [-0.1, 0.1], yDom: [-1.5, 1.5], xt: xtStd, yt: [-1.5, -1, -0.5, 0, 0.5, 1, 1.5], lx: 899, ly: 235,
   draw: (g, L, O) => {
     g.append('path').attr('d', L(dOuter)).attr('fill', 'none').attr('stroke', BLUE).attr('stroke-width', 2.4);
     g.append('path').attr('d', bandPath(L, dOuter, [dHoleL, dHoleR])).attr('fill', RED).attr('fill-rule', 'evenodd');
     dStreaks.forEach(s => g.append('path').attr('d', O(s)).attr('fill', 'none').attr('stroke', '#fff').attr('stroke-width', 0.7).attr('stroke-opacity', 0.75));
   }},
  {id: 'f', x0: 677, x1: 907, y0: 451, y1: 633, xDom: [-0.1, 0.1], yDom: [-5, 5], xt: xtStd, yt: [-5, 0, 5], lx: 899, ly: 466, xlabelY: 661,
   draw: (g, L) => {
     g.append('path').attr('d', L(fBlue)).attr('fill', 'none').attr('stroke', BLUE).attr('stroke-width', 1.1);
     g.append('path').attr('d', bandPath(L, fOuter, [fInner])).attr('fill', RED).attr('fill-rule', 'evenodd');
   }},
  {id: 'h', x0: 683, x1: 906, y0: 683, y1: 851, xDom: [-0.045, 0.063], yDom: [-1.5, 1.5], xt: [-0.04, -0.02, 0, 0.02, 0.04, 0.06], yt: [-1.5, -1, -0.5, 0, 0.5, 1, 1.5], lx: 904, ly: 694, xlabelY: 880,
   draw: (g, L) => {
     g.append('path').attr('d', L(hBlue)).attr('fill', 'none').attr('stroke', BLUE).attr('stroke-width', 1.1);
     g.append('path').attr('d', bandPath(L, hOuter, [hInner])).attr('fill', RED).attr('fill-rule', 'evenodd');
   }}
];
phasePanels.forEach(drawPhasePanel);
</script>
</body></html>
